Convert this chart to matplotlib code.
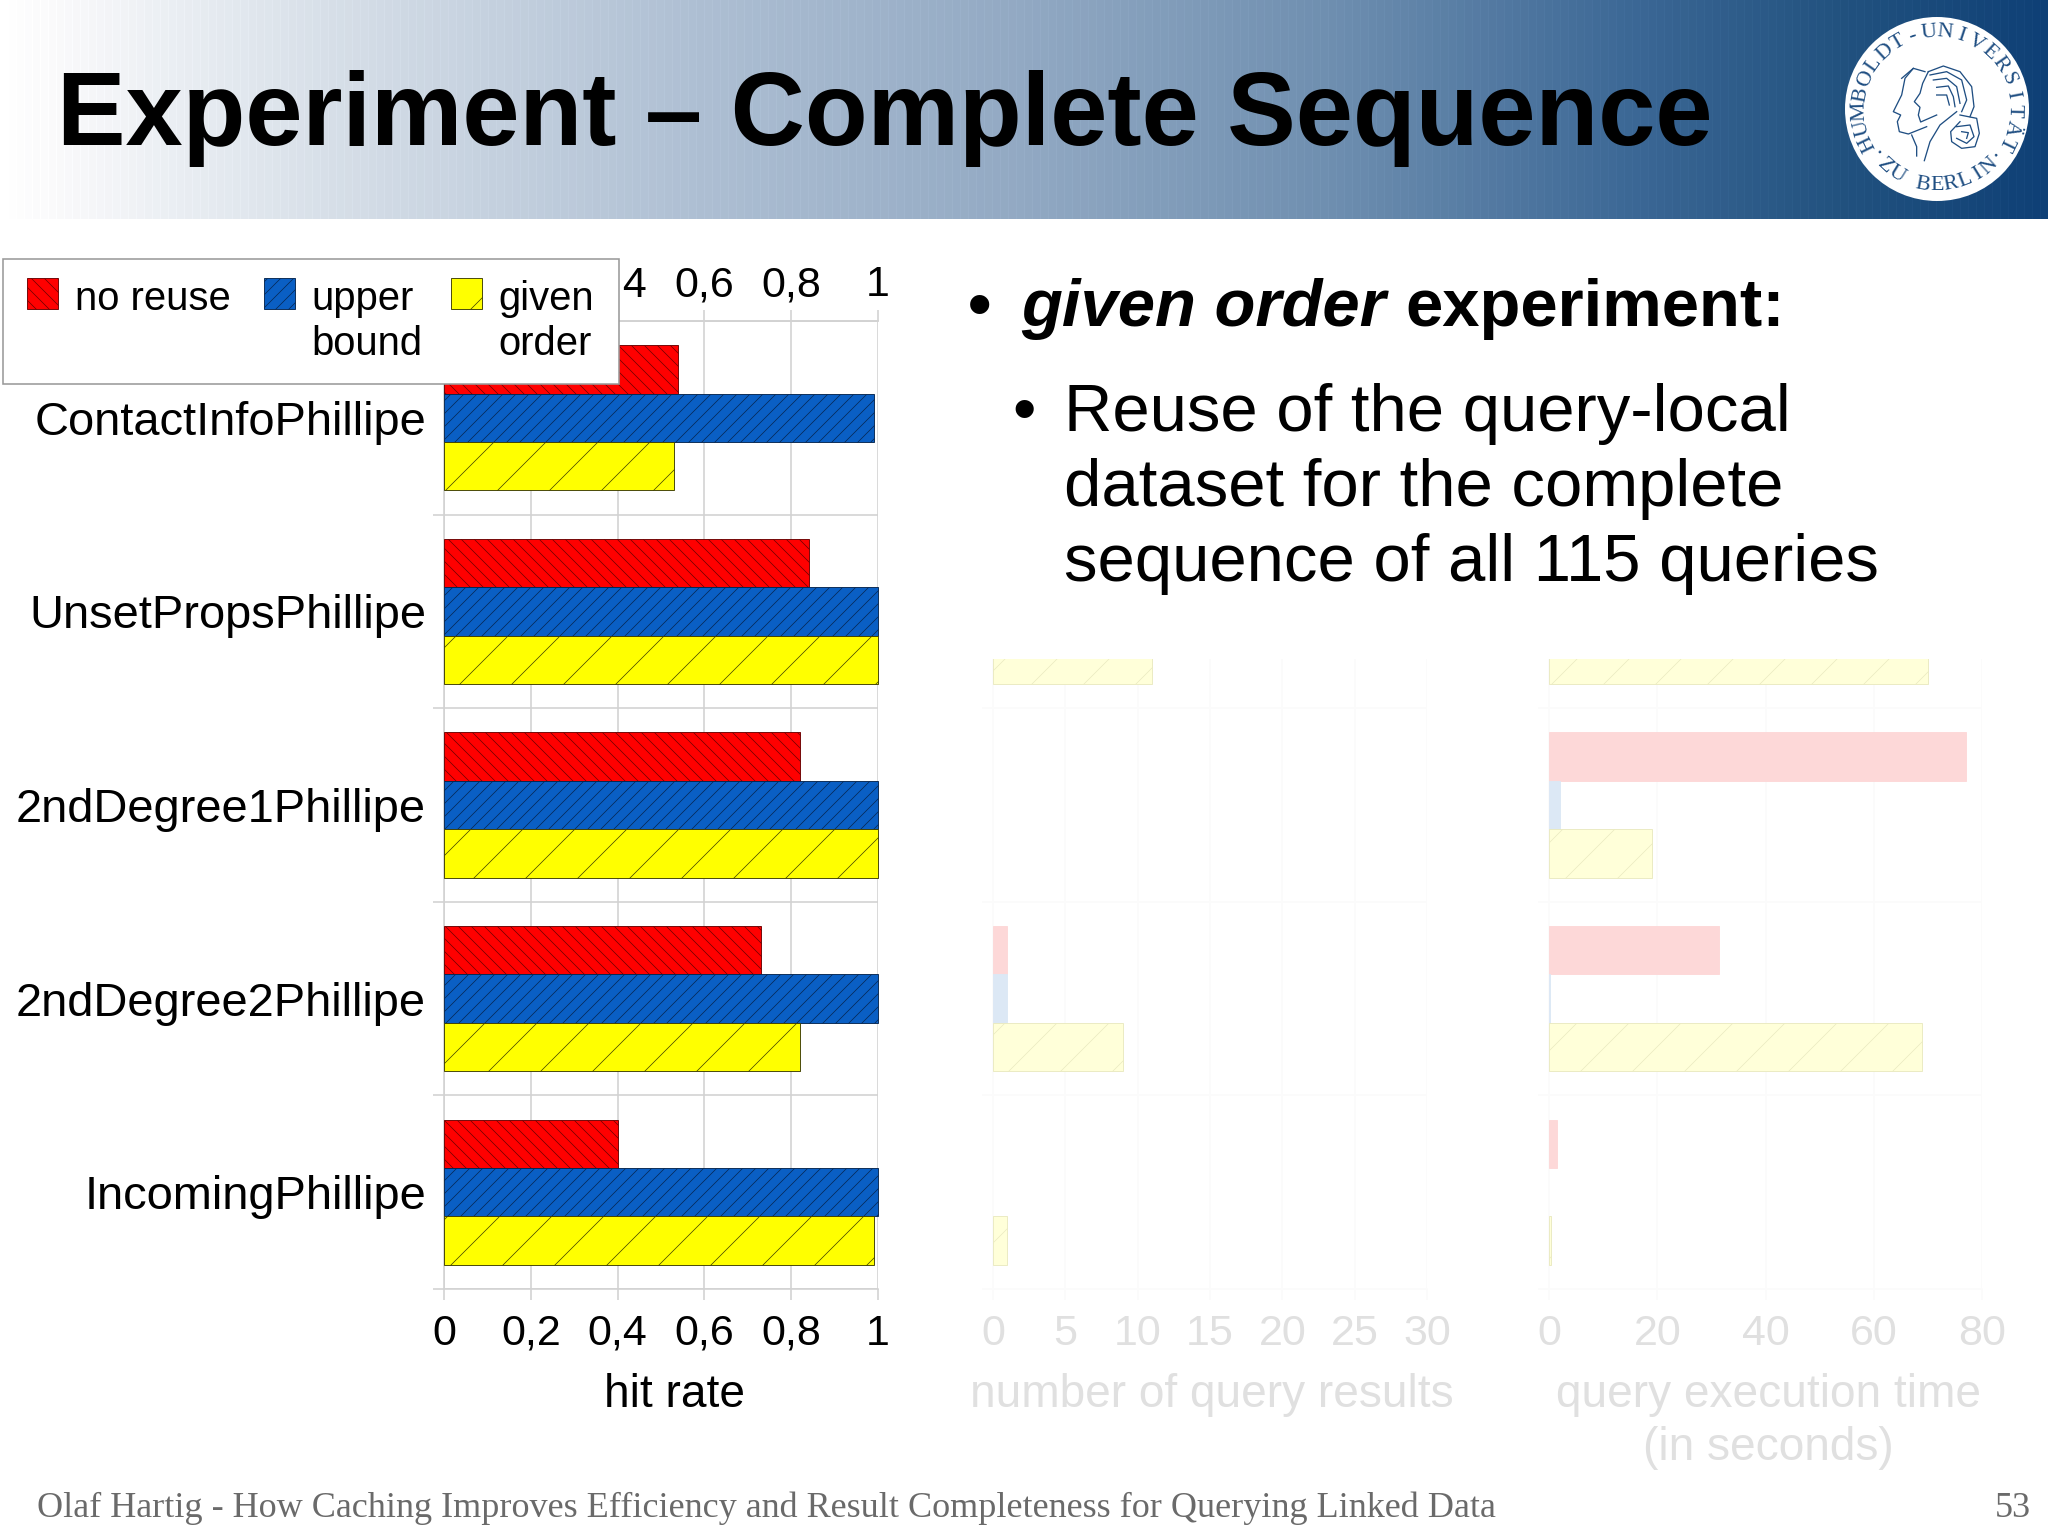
import numpy as np
import matplotlib
matplotlib.use("Agg")
import matplotlib.pyplot as plt
from matplotlib.colors import LinearSegmentedColormap
from matplotlib.patches import Rectangle, Circle

W, H = 2048, 1535
DPI = 312

queries = ["ContactInfoPhillipe", "UnsetPropsPhillipe", "2ndDegree1Phillipe",
           "2ndDegree2Phillipe", "IncomingPhillipe"]
series = ["no reuse", "upper\nbound", "given\norder"]

hit_no_reuse = [0.54, 0.84, 0.82, 0.73, 0.40]
hit_upper = [0.99, 1.0, 1.0, 1.0, 1.0]
hit_given = [0.53, 1.0, 1.0, 0.82, 0.99]

# the top of the two faded charts is hidden on the slide, only the bars below the mask count
results_no_reuse = [0, 0, 0, 1, 0]
results_upper = [0, 0, 0, 1, 0]
results_given = [0, 11, 0, 9, 1]

time_no_reuse = [0, 0, 77, 31.5, 1.5]
time_upper = [0, 0, 2, 0.2, 0]
time_given = [0, 70, 19, 69, 0.3]

hit_ticks = [0, 0.2, 0.4, 0.6, 0.8, 1]
hit_ticklabels = ["0", "0,2", "0,4", "0,6", "0,8", "1"]
results_ticks = [0, 5, 10, 15, 20, 25, 30]
time_ticks = [0, 20, 40, 60, 80]

colors = ["#ff0000", "#0a5fc4", "#ffff00"]
edges = ["#6a0000", "#06264f", "#3c3c00"]
hatches = ["\\" * 8, "/" * 8, "//"]
faded_colors = ["#fdd8d8", "#dce8f5", "#ffffd9"]
faded_edges = ["#fdd8d8", "#dce8f5", "#e9e9c0"]

grad_pos = [0, 0.02, 0.16, 0.34, 0.50, 0.65, 0.80, 0.90, 1]
grad_col = ["#ffffff", "#fbfbfc", "#d7dfe8", "#aebfd3", "#92a9c3", "#6f8fb0",
            "#3b6795", "#22527f", "#0f4076"]


def pt(px):
    return px * 72 / DPI


plt.rcParams["font.family"] = "Liberation Sans"
plt.rcParams["hatch.linewidth"] = pt(0.7)

fig = plt.figure(figsize=(W / DPI, H / DPI), dpi=DPI, facecolor="white")

bg = fig.add_axes([0, 0, 1, 1], zorder=0)
bg.set_xlim(0, W)
bg.set_ylim(H, 0)
bg.axis("off")
cmap = LinearSegmentedColormap.from_list("header", list(zip(grad_pos, grad_col)))
grad = cmap(np.linspace(0, 1, W))[:, :3]
grad[::8] = np.clip(grad[::8] + 0.018, 0, 1)
bg.imshow(grad[np.newaxis, :, :], extent=(0, W, 219, 0), aspect="auto", interpolation="nearest")
bg.set_xlim(0, W)
bg.set_ylim(H, 0)


def make_chart(x0, x1, xmax, vals, ticks, ticklabels, label, label_x, faded):
    y0, y1 = 321, 1289
    ax = fig.add_axes([x0 / W, 1 - y1 / H, (x1 - x0) / W, (y1 - y0) / H], zorder=2)
    ax.set_xlim(0, xmax)
    ax.set_ylim(5, 0)
    ax.patch.set_alpha(0)
    pos = np.arange(5) + 0.5
    for k, v in enumerate(vals):
        v = np.array(v, dtype=float)
        keep = v > 0
        ax.barh(pos[keep] + (k - 1) * 0.25, v[keep], height=0.25,
                color=(faded_colors if faded else colors)[k],
                edgecolor=(faded_edges if faded else edges)[k],
                hatch=hatches[k], linewidth=pt(0.9), zorder=3, clip_on=False)
    grid_col = "#fbfbfb" if faded else "#d2d2d2"
    text_col = "#e0e0e0" if faded else "black"
    ax.set_xticks(ticks)
    ax.set_xticklabels(ticklabels)
    ax.set_yticks(range(6))
    ax.set_yticklabels([])
    ax.grid(True, color=grid_col, linewidth=pt(1.6), zorder=0)
    ax.set_axisbelow(True)
    for s in ax.spines.values():
        s.set_color(grid_col)
        s.set_linewidth(pt(1.6))
    ax.spines["right"].set_visible(False)
    ax.spines["top"].set_visible(not faded)
    ax.tick_params(axis="both", which="major", color=grid_col, width=pt(1.6), length=pt(11),
                   labelsize=pt(43), labelcolor=text_col, pad=pt(14))
    if not faded:
        sec = ax.secondary_xaxis("top")
        sec.set_xticks(ticks)
        sec.set_xticklabels(ticklabels)
        sec.tick_params(axis="x", color=grid_col, width=pt(1.6), length=pt(11),
                        labelsize=pt(43), pad=pt(4.5))
        sec.spines["top"].set_color(grid_col)
        sec.spines["top"].set_linewidth(pt(1.6))
        ax.set_yticks(pos, minor=True)
        ax.set_yticklabels(queries, minor=True)
        ax.tick_params(axis="y", which="minor", length=0, labelsize=pt(47), pad=pt(18))
    ax.set_xlabel(label, fontsize=pt(46), color=text_col, linespacing=1.27)
    ax.xaxis.set_label_coords((label_x - x0) / (x1 - x0), -(1373 - y1) / (y1 - y0))
    return ax


make_chart(444, 878, 1, [hit_no_reuse, hit_upper, hit_given], hit_ticks, hit_ticklabels,
           "hit rate", 674, False)
make_chart(993, 1427, 30, [results_no_reuse, results_upper, results_given], results_ticks,
           [str(t) for t in results_ticks], "number of query results", 1212, True)
make_chart(1549, 1982, 80, [time_no_reuse, time_upper, time_given], time_ticks,
           [str(t) for t in time_ticks], "query execution time\n(in seconds)", 1768, True)

top = fig.add_axes([0, 0, 1, 1], zorder=5)
top.set_xlim(0, W)
top.set_ylim(H, 0)
top.axis("off")
top.patch.set_alpha(0)

# slide content covering the upper part of the faded charts
top.add_patch(Rectangle((905, 219), W - 905, 440, facecolor="white", edgecolor="none", zorder=1))

top.text(57, 145, "Experiment – Complete Sequence", fontsize=pt(102.8), fontweight="bold",
         color="black", va="baseline", zorder=3)

# legend box
top.add_patch(Rectangle((3, 259), 616, 125, facecolor="white", edgecolor="#9a9a9a",
                        linewidth=pt(1.6), zorder=2))
swatch_x = [27, 264, 451]
label_x = [75, 311, 498]
for k, name in enumerate(series):
    top.add_patch(Rectangle((swatch_x[k], 278), 31, 31, facecolor=colors[k], edgecolor=edges[k],
                            hatch=hatches[k], linewidth=pt(0.9), zorder=3))
    for i, part in enumerate(name.split("\n")):
        top.text(label_x[k], 310 + i * 45, part, fontsize=pt(40), va="baseline", zorder=3)

# bullets
top.text(968, 326, "•", fontsize=pt(67), fontweight="bold", va="baseline", zorder=3)
top.text(1021, 326, "given order", fontsize=pt(67), fontweight="bold", style="italic",
         va="baseline", zorder=3)
top.text(1405, 326, "experiment:", fontsize=pt(67), fontweight="bold", va="baseline", zorder=3)
top.text(1012, 431, "•", fontsize=pt(67), va="baseline", zorder=3)
for line, y in zip(["Reuse of the query-local", "dataset for the complete",
                    "sequence of all 115 queries"], [431, 506, 581]):
    top.text(1064, y, line, fontsize=pt(67), va="baseline", zorder=3)

# footer
top.text(37, 1517, "Olaf Hartig - How Caching Improves Efficiency and Result Completeness "
         "for Querying Linked Data", family="Liberation Serif", fontsize=pt(36.17),
         color="#6a6a6a", va="baseline", zorder=3)
top.text(2031, 1517, "53", family="Liberation Serif", fontsize=pt(36.17), color="#6a6a6a",
         va="baseline", ha="right", zorder=3)

# university seal
seal_blue = "#1f4e82"
cx, cy, r = 1937, 109, 92
top.add_patch(Circle((cx, cy), r, facecolor="white", edgecolor="none", zorder=3))
top_letters = "HUMBOLDT-UNIVERSITÄT"
for ang, ch in zip(np.linspace(-116, 116, len(top_letters)), top_letters):
    a = np.radians(ang)
    top.text(cx + 77 * np.sin(a), cy - 77 * np.cos(a), ch, family="Liberation Serif",
             fontsize=pt(22), color=seal_blue, rotation=-ang, rotation_mode="anchor",
             ha="center", va="center", zorder=4)
bottom_letters = "·ZU BERLIN·"
for ang, ch in zip(np.linspace(-53, 53, len(bottom_letters)), bottom_letters):
    a = np.radians(ang)
    top.text(cx + 77 * np.sin(a), cy + 77 * np.cos(a), ch, family="Liberation Serif",
             fontsize=pt(22), color=seal_blue, rotation=ang, rotation_mode="anchor",
             ha="center", va="center", zorder=4)

profile_lines = [
    [(400, 205), (375, 235), (365, 285), (340, 335), (362, 345), (352, 365), (358, 395), (385, 402), (440, 380)],
    [(395, 405), (410, 440), (410, 468)],
    [(445, 215), (428, 250), (420, 280), (403, 305), (420, 322), (415, 345), (422, 366), (470, 345)],
    [(530, 335), (480, 375), (450, 425), (433, 482)],
    [(445, 215), (490, 198), (540, 215), (575, 260), (582, 320), (570, 350)],
    [(365, 235), (400, 205), (435, 215)],
    [(450, 225), (500, 215), (545, 240), (560, 300), (545, 335)],
    [(460, 240), (500, 235), (530, 260), (540, 310)],
    [(470, 262), (505, 258), (520, 290), (525, 320)],
    [(470, 285), (500, 285), (508, 315)],
    [(540, 345), (590, 355), (598, 400), (585, 440), (545, 445), (515, 425), (512, 395), (540, 365)],
    [(530, 380), (570, 375), (582, 410), (560, 430), (530, 415)],
    [(545, 395), (565, 398), (560, 415)],
]
for line in profile_lines:
    pts = np.array(line, dtype=float) / 3
    top.plot(pts[:, 0] + 1780, pts[:, 1], color=seal_blue, linewidth=pt(1.3), zorder=4)

fig.savefig("out.png", dpi=DPI, facecolor="white")
